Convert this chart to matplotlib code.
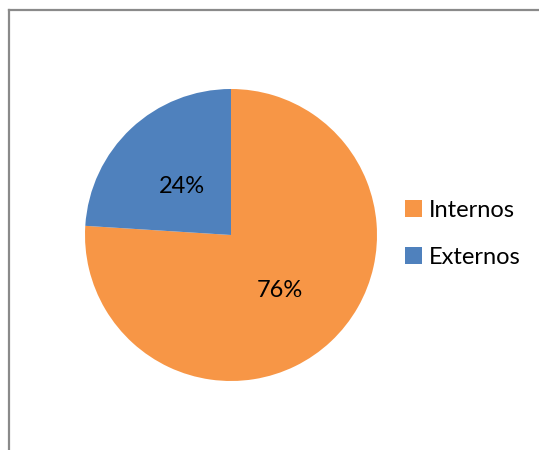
import matplotlib.pyplot as plt
from matplotlib.lines import Line2D

# data
labels = ["Internos", "Externos"]
values = [76, 24]
colors = ["#F79646", "#4F81BD"]

W, H = 539, 450
fig = plt.figure(figsize=(W / 100, H / 100), dpi=100)
plt.rcParams['font.family'] = ['Lato', 'DejaVu Sans']

# chart frame (only top and left edges visible)
fig.add_artist(Line2D([9 / W, 9 / W], [0, 1 - 10 / H], color="#8a8a8a", lw=1.6,
                      transform=fig.transFigure))
fig.add_artist(Line2D([9 / W, 1], [1 - 10 / H, 1 - 10 / H], color="#8a8a8a", lw=1.6,
                      transform=fig.transFigure))

cx, cy, r = 231, 235, 146
ax = fig.add_axes([(cx - r) / W, (H - cy - r) / H, 2 * r / W, 2 * r / H])
wedges, _, autotexts = ax.pie(values, colors=colors, startangle=90, counterclock=False,
                              autopct="%1.0f%%", pctdistance=0.49,
                              wedgeprops=dict(linewidth=0),
                              textprops=dict(fontsize=17, color="black"))
for t in autotexts:
    x, y = t.get_position()
    t.set_position((x, y - 0.025))
ax.set_xlim(-1, 1)
ax.set_ylim(-1, 1)
ax.set_aspect("equal")

fig.legend(wedges, labels, loc="center left",
           bbox_to_anchor=(398 / W, 1 - 234 / H),
           frameon=False, fontsize=17, handlelength=0.72, handleheight=0.72,
           handletextpad=0.3, labelspacing=1.1, borderaxespad=0, borderpad=0.3)

fig.savefig("out.png", dpi=100)
